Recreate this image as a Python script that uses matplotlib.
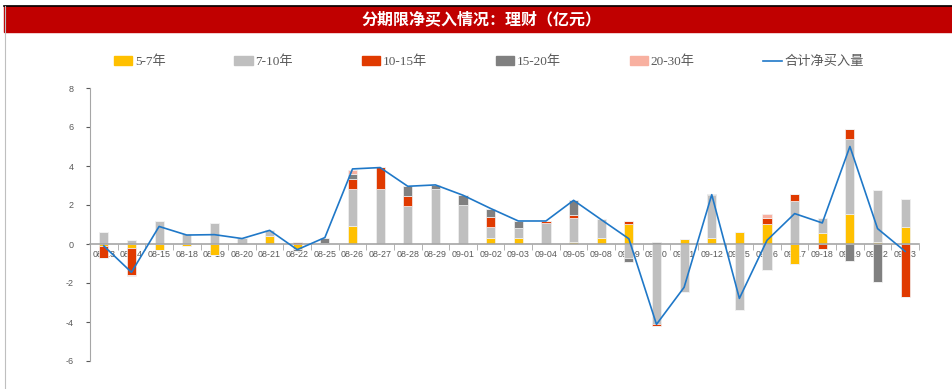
import matplotlib
matplotlib.use("Agg")
import matplotlib.pyplot as plt
import numpy as np
from matplotlib.patches import Rectangle
from matplotlib.lines import Line2D

# 数据（亿元）
dates = ["08-13", "08-14", "08-15", "08-18", "08-19", "08-20", "08-21", "08-22", "08-25", "08-26",
         "08-27", "08-28", "08-29", "09-01", "09-02", "09-03", "09-04", "09-05", "09-08", "09-09",
         "09-10", "09-11", "09-12", "09-15", "09-16", "09-17", "09-18", "09-19", "09-22", "09-23"]
y5_7 = [-0.10, -0.20, -0.30, -0.08, -0.57, 0.00, 0.43, -0.28, 0.00, 0.92,
        0.00, 0.00, 0.00, 0.00, 0.31, 0.31, 0.00, 0.10, 0.31, 1.01,
        0.00, 0.27, 0.33, 0.60, 1.03, -1.01, 0.56, 1.54, 0.08, 0.87]
y7_10 = [0.62, 0.19, 1.20, 0.50, 1.08, 0.29, 0.29, 0.00, 0.05, 1.90,
         2.83, 1.93, 2.84, 1.99, 0.58, 0.50, 1.08, 1.22, 0.98, -0.72,
         -4.12, -2.48, 2.16, -3.38, -1.33, 2.19, 0.75, 3.82, 2.67, 1.42]
y10_15 = [-0.62, -1.37, 0.00, 0.00, 0.00, 0.00, 0.00, 0.10, 0.00, 0.51,
          1.10, 0.51, 0.00, 0.00, 0.50, 0.00, 0.10, 0.17, 0.00, 0.19,
          -0.09, 0.00, 0.00, 0.00, 0.31, 0.36, -0.26, 0.55, 0.00, -2.72]
y15_20 = [0.00, 0.00, 0.00, 0.00, 0.00, 0.00, 0.00, -0.10, 0.25, 0.27,
          0.00, 0.51, 0.19, 0.51, 0.43, 0.38, 0.00, 0.75, 0.00, -0.19,
          0.10, 0.00, 0.09, 0.00, 0.00, 0.00, 0.00, -0.89, -1.95, 0.00]
y20_30 = [0.00, -0.07, 0.00, 0.00, 0.00, 0.00, 0.00, 0.00, 0.00, 0.22,
          0.00, 0.00, 0.00, 0.00, 0.00, 0.00, 0.00, 0.00, 0.00, 0.00,
          0.00, 0.00, 0.00, 0.00, 0.19, 0.00, 0.00, 0.00, 0.00, 0.00]
total = [-0.10, -1.45, 0.90, 0.46, 0.48, 0.28, 0.70, -0.29, 0.33, 3.85,
         3.92, 2.96, 3.03, 2.50, 1.82, 1.18, 1.18, 2.24, 1.25, 0.27,
         -4.12, -2.22, 2.53, -2.79, 0.19, 1.56, 1.08, 5.00, 0.79, -0.38]

series = [("5-7年", y5_7, "#FFC000"),
          ("7-10年", y7_10, "#BFBFBF"),
          ("10-15年", y10_15, "#E03A00"),
          ("15-20年", y15_20, "#808080"),
          ("20-30年", y20_30, "#F8B0A0")]
line_color = "#1F78C8"

plt.rcParams["font.family"] = ["Liberation Sans", "Noto Sans CJK SC"]
plt.rcParams["axes.unicode_minus"] = False

fig = plt.figure(figsize=(9.53, 3.89), dpi=100)

# 标题栏
fig.patches.append(Rectangle((4 / 953, 1 - 32 / 389), 949 / 953, 26 / 389,
                             transform=fig.transFigure, color="#C00000", zorder=0))
fig.lines.append(Line2D([4 / 953, 1], [1 - 5.5 / 389, 1 - 5.5 / 389],
                        transform=fig.transFigure, color="black", lw=1.2))
fig.lines.append(Line2D([4.5 / 953, 4.5 / 953], [0, 1 - 5.5 / 389],
                        transform=fig.transFigure, color="#BFBFBF", lw=0.8))
fig.text(0.505, 1 - 19 / 389, "分期限净买入情况：理财（亿元）", color="white",
         fontsize=11.5, fontweight="bold", ha="center", va="center",
         family=["Noto Sans CJK SC", "DejaVu Sans"])

ax = fig.add_axes([90 / 953, 28 / 389, 829 / 953, 273 / 389])
x = np.arange(len(dates))
pos_base = np.zeros(len(dates))
neg_base = np.zeros(len(dates))
handles = []
for name, vals, col in series:
    v = np.array(vals)
    pv = np.where(v > 0, v, 0)
    nv = np.where(v < 0, v, 0)
    ax.bar(x, pv, 0.33, bottom=pos_base, color=col, edgecolor="#F2F2F2", linewidth=0.5, zorder=2)
    ax.bar(x, nv, 0.33, bottom=neg_base, color=col, edgecolor="#F2F2F2", linewidth=0.5, zorder=2)
    pos_base += pv
    neg_base += nv
    handles.append(Rectangle((0, 0), 1, 1, color=col, label=name))

ax.plot(x, total, color=line_color, lw=1.2, zorder=3)
handles.append(Line2D([], [], color=line_color, lw=1.2, label="合计净买入量"))

ax.set_xlim(-0.5, len(dates) - 0.5)
ax.set_ylim(-6, 8)
ax.set_yticks(np.arange(-6, 9, 2))
ax.tick_params(axis="y", colors="#595959", labelsize=6.5, length=3, width=0.8, pad=9)
for s in ["top", "right"]:
    ax.spines[s].set_visible(False)
ax.spines["left"].set_color("#A6A6A6")
ax.spines["bottom"].set_position(("data", 0))
ax.spines["bottom"].set_color("#A6A6A6")
ax.spines["bottom"].set_linewidth(1.2)
ax.spines["bottom"].set_zorder(2.5)
ax.set_xticks(x)
ax.set_xticklabels(dates)
ax.set_xticks(np.arange(-0.5, len(dates), 1), minor=True)
ax.tick_params(axis="x", which="major", length=0, pad=4, labelsize=6.4, labelcolor="#595959")
ax.tick_params(axis="x", which="minor", length=4, color="#A6A6A6", direction="out")
for lab in ax.get_xticklabels():
    lab.set_zorder(4)

fig.legend(handles=handles, loc="center", bbox_to_anchor=(0.513, 1 - 62 / 389), ncol=6,
           frameon=False, handlelength=1.4, handleheight=0.6, columnspacing=5.2, handletextpad=0.2,
           prop={"family": ["Liberation Serif", "Noto Sans CJK SC"], "size": 9.5},
           labelcolor="#595959")

fig.savefig("out.png", dpi=100)
